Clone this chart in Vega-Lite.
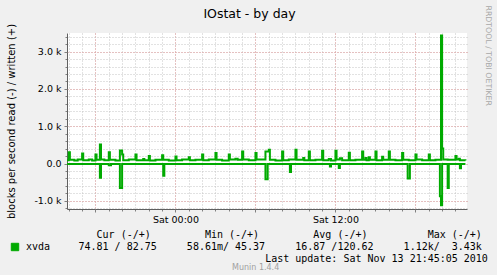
{
  "$schema": "https://vega.github.io/schema/vega-lite/v6.json",
  "width": 400,
  "height": 176,
  "autosize": "none",
  "padding": {"left": 67, "top": 33, "right": 30, "bottom": 66},
  "background": "#F0F0F0",
  "config": {"view": {"fill": "white", "stroke": null}, "font": "DejaVu Sans"},
  "datasets": {
    "w": [
      {"t": "2010-11-12T15:50:00Z", "v": 90}, {"t": "2010-11-12T16:00:00Z", "v": 300}, {"t": "2010-11-12T16:05:00Z", "v": 100},
      {"t": "2010-11-12T16:25:00Z", "v": 80}, {"t": "2010-11-12T16:40:00Z", "v": 110}, {"t": "2010-11-12T17:00:00Z", "v": 270},
      {"t": "2010-11-12T17:05:00Z", "v": 90}, {"t": "2010-11-12T17:30:00Z", "v": 110}, {"t": "2010-11-12T17:45:00Z", "v": 80},
      {"t": "2010-11-12T18:00:00Z", "v": 240}, {"t": "2010-11-12T18:05:00Z", "v": 100}, {"t": "2010-11-12T18:20:00Z", "v": 510},
      {"t": "2010-11-12T18:25:00Z", "v": 110}, {"t": "2010-11-12T18:40:00Z", "v": 90}, {"t": "2010-11-12T19:00:00Z", "v": 300},
      {"t": "2010-11-12T19:05:00Z", "v": 100}, {"t": "2010-11-12T19:30:00Z", "v": 80}, {"t": "2010-11-12T19:50:00Z", "v": 350},
      {"t": "2010-11-12T20:00:00Z", "v": 240}, {"t": "2010-11-12T20:05:00Z", "v": 90}, {"t": "2010-11-12T20:30:00Z", "v": 110},
      {"t": "2010-11-12T21:00:00Z", "v": 240}, {"t": "2010-11-12T21:05:00Z", "v": 90}, {"t": "2010-11-12T21:35:00Z", "v": 120},
      {"t": "2010-11-12T21:40:00Z", "v": 90}, {"t": "2010-11-12T22:00:00Z", "v": 200}, {"t": "2010-11-12T22:05:00Z", "v": 80},
      {"t": "2010-11-12T22:30:00Z", "v": 100}, {"t": "2010-11-12T23:00:00Z", "v": 220}, {"t": "2010-11-12T23:05:00Z", "v": 100},
      {"t": "2010-11-12T23:30:00Z", "v": 80}, {"t": "2010-11-13T00:00:00Z", "v": 190}, {"t": "2010-11-13T00:05:00Z", "v": 90},
      {"t": "2010-11-13T00:30:00Z", "v": 110}, {"t": "2010-11-13T01:00:00Z", "v": 170}, {"t": "2010-11-13T01:05:00Z", "v": 90},
      {"t": "2010-11-13T01:30:00Z", "v": 100}, {"t": "2010-11-13T02:00:00Z", "v": 240}, {"t": "2010-11-13T02:05:00Z", "v": 90},
      {"t": "2010-11-13T02:30:00Z", "v": 110}, {"t": "2010-11-13T03:00:00Z", "v": 280}, {"t": "2010-11-13T03:05:00Z", "v": 100},
      {"t": "2010-11-13T03:30:00Z", "v": 80}, {"t": "2010-11-13T04:00:00Z", "v": 240}, {"t": "2010-11-13T04:05:00Z", "v": 110},
      {"t": "2010-11-13T04:30:00Z", "v": 130}, {"t": "2010-11-13T04:40:00Z", "v": 100}, {"t": "2010-11-13T05:00:00Z", "v": 320},
      {"t": "2010-11-13T05:05:00Z", "v": 110}, {"t": "2010-11-13T05:30:00Z", "v": 90}, {"t": "2010-11-13T06:00:00Z", "v": 280},
      {"t": "2010-11-13T06:05:00Z", "v": 110}, {"t": "2010-11-13T06:45:00Z", "v": 320}, {"t": "2010-11-13T07:00:00Z", "v": 370},
      {"t": "2010-11-13T07:05:00Z", "v": 100}, {"t": "2010-11-13T07:30:00Z", "v": 80}, {"t": "2010-11-13T08:00:00Z", "v": 320},
      {"t": "2010-11-13T08:05:00Z", "v": 90}, {"t": "2010-11-13T08:30:00Z", "v": 110}, {"t": "2010-11-13T09:00:00Z", "v": 370},
      {"t": "2010-11-13T09:05:00Z", "v": 100}, {"t": "2010-11-13T09:35:00Z", "v": 150}, {"t": "2010-11-13T09:40:00Z", "v": 90},
      {"t": "2010-11-13T10:00:00Z", "v": 320}, {"t": "2010-11-13T10:05:00Z", "v": 90}, {"t": "2010-11-13T10:30:00Z", "v": 100},
      {"t": "2010-11-13T11:00:00Z", "v": 340}, {"t": "2010-11-13T11:05:00Z", "v": 90}, {"t": "2010-11-13T11:30:00Z", "v": 120},
      {"t": "2010-11-13T11:40:00Z", "v": 80}, {"t": "2010-11-13T12:00:00Z", "v": 340}, {"t": "2010-11-13T12:05:00Z", "v": 110},
      {"t": "2010-11-13T12:20:00Z", "v": 140}, {"t": "2010-11-13T12:30:00Z", "v": 90}, {"t": "2010-11-13T13:00:00Z", "v": 290},
      {"t": "2010-11-13T13:05:00Z", "v": 90}, {"t": "2010-11-13T13:30:00Z", "v": 100}, {"t": "2010-11-13T14:00:00Z", "v": 320},
      {"t": "2010-11-13T14:05:00Z", "v": 100}, {"t": "2010-11-13T14:15:00Z", "v": 150}, {"t": "2010-11-13T14:20:00Z", "v": 90},
      {"t": "2010-11-13T14:30:00Z", "v": 170}, {"t": "2010-11-13T14:35:00Z", "v": 100}, {"t": "2010-11-13T15:00:00Z", "v": 320},
      {"t": "2010-11-13T15:05:00Z", "v": 90}, {"t": "2010-11-13T15:30:00Z", "v": 180}, {"t": "2010-11-13T15:35:00Z", "v": 100},
      {"t": "2010-11-13T16:00:00Z", "v": 320}, {"t": "2010-11-13T16:05:00Z", "v": 100}, {"t": "2010-11-13T16:30:00Z", "v": 90},
      {"t": "2010-11-13T17:00:00Z", "v": 280}, {"t": "2010-11-13T17:05:00Z", "v": 100}, {"t": "2010-11-13T17:30:00Z", "v": 90},
      {"t": "2010-11-13T18:00:00Z", "v": 240}, {"t": "2010-11-13T18:05:00Z", "v": 110}, {"t": "2010-11-13T18:30:00Z", "v": 90},
      {"t": "2010-11-13T19:00:00Z", "v": 240}, {"t": "2010-11-13T19:05:00Z", "v": 90}, {"t": "2010-11-13T19:30:00Z", "v": 100},
      {"t": "2010-11-13T19:55:00Z", "v": 3430}, {"t": "2010-11-13T20:00:00Z", "v": 400}, {"t": "2010-11-13T20:05:00Z", "v": 110},
      {"t": "2010-11-13T20:25:00Z", "v": 100}, {"t": "2010-11-13T21:00:00Z", "v": 200}, {"t": "2010-11-13T21:05:00Z", "v": 110},
      {"t": "2010-11-13T21:15:00Z", "v": 130}, {"t": "2010-11-13T21:20:00Z", "v": 90}, {"t": "2010-11-13T21:45:00Z", "v": 83}
    ],
    "r": [
      {"t": "2010-11-12T15:50:00Z", "v": -15}, {"t": "2010-11-12T18:20:00Z", "v": -380}, {"t": "2010-11-12T18:25:00Z", "v": -15},
      {"t": "2010-11-12T19:00:00Z", "v": -50}, {"t": "2010-11-12T19:10:00Z", "v": -15}, {"t": "2010-11-12T19:50:00Z", "v": -660},
      {"t": "2010-11-12T20:00:00Z", "v": -15}, {"t": "2010-11-12T23:05:00Z", "v": -330}, {"t": "2010-11-12T23:10:00Z", "v": -15},
      {"t": "2010-11-13T06:45:00Z", "v": -420}, {"t": "2010-11-13T06:55:00Z", "v": -15}, {"t": "2010-11-13T08:35:00Z", "v": -230},
      {"t": "2010-11-13T08:40:00Z", "v": -15}, {"t": "2010-11-13T11:35:00Z", "v": -80}, {"t": "2010-11-13T11:40:00Z", "v": -15},
      {"t": "2010-11-13T12:15:00Z", "v": -120}, {"t": "2010-11-13T12:20:00Z", "v": -15}, {"t": "2010-11-13T17:25:00Z", "v": -400},
      {"t": "2010-11-13T17:35:00Z", "v": -15}, {"t": "2010-11-13T19:50:00Z", "v": -880}, {"t": "2010-11-13T19:55:00Z", "v": -1120},
      {"t": "2010-11-13T20:00:00Z", "v": -15}, {"t": "2010-11-13T20:25:00Z", "v": -660}, {"t": "2010-11-13T20:30:00Z", "v": -15},
      {"t": "2010-11-13T21:20:00Z", "v": -130}, {"t": "2010-11-13T21:25:00Z", "v": -15}, {"t": "2010-11-13T21:45:00Z", "v": -15}
    ]
  },
  "layer": [
    {
      "data": {"name": "w"},
      "mark": {"type": "line", "interpolate": "step-after", "strokeWidth": 2, "clip": true},
      "encoding": {
        "x": {
          "field": "t", "type": "temporal",
          "scale": {"type": "utc", "domain": [1289577120000, 1289685120000]},
          "axis": {"orient": "bottom",
            "values": [1289577600000, 1289581200000, 1289584800000, 1289588400000, 1289592000000, 1289595600000, 1289599200000, 1289602800000, 1289606400000, 1289610000000, 1289613600000, 1289617200000, 1289620800000, 1289624400000, 1289628000000, 1289631600000, 1289635200000, 1289638800000, 1289642400000, 1289646000000, 1289649600000, 1289653200000, 1289656800000, 1289660400000, 1289664000000, 1289667600000, 1289671200000, 1289674800000, 1289678400000, 1289682000000],
            "grid": true, "gridColor": "#C4C4C4", "gridDash": [1, 2], "gridWidth": 1, "labels": false,
            "ticks": true, "tickSize": 2, "tickColor": "#808080", "domain": true, "domainColor": "#606060",
            "domainWidth": 1, "title": null}
        },
        "y": {
          "field": "v", "type": "quantitative",
          "scale": {"domain": [-1220, 3500], "nice": false, "zero": false},
          "axis": {"orient": "left", "values": [-1200, -1000, -800, -600, -400, -200, 0, 200, 400, 600, 800, 1000, 1200, 1400, 1600, 1800, 2000, 2200, 2400, 2600, 2800, 3000, 3200, 3400],
            "grid": true, "gridColor": "#C4C4C4", "gridDash": [1, 2], "gridWidth": 1, "labels": false,
            "ticks": true, "tickSize": 2, "tickColor": "#808080", "domain": true, "domainColor": "#606060",
            "title": "blocks per second read (-) / written (+)", "titleFont": "DejaVu Sans", "titleFontSize": 10,
            "titleFontWeight": "normal", "titleColor": "black", "titleX": -56, "titleY": 88, "titleAngle": 270,
            "titleAlign": "center", "titleBaseline": "middle"}
        },
        "color": {
          "datum": "xvda", "scale": {"range": ["#00AA00"]},
          "legend": {"orient": "none", "legendX": -57, "legendY": 209, "title": null, "padding": 0,
            "symbolType": "square", "symbolSize": 55, "symbolFillColor": "#00AA00", "symbolStrokeColor": "black",
            "symbolStrokeWidth": 1, "labelFont": "DejaVu Sans Mono", "labelFontSize": 10,
            "labelColor": "black", "labelOffset": 6}
        }
      }
    },
    {
      "data": {"name": "r"},
      "mark": {"type": "line", "interpolate": "step-after", "strokeWidth": 2, "clip": true},
      "encoding": {
        "x": {
          "field": "t", "type": "temporal",
          "axis": {"orient": "bottom", "values": [1289584800000, 1289606400000, 1289628000000, 1289649600000, 1289671200000],
            "grid": true, "gridColor": "#E8A0A0", "gridDash": [1, 2], "gridWidth": 1,
            "labelExpr": "utchours(datum.value) % 12 == 0 ? utcFormat(datum.value, '%a %H:%M') : ''",
            "labelFont": "DejaVu Sans", "labelFontSize": 9.5, "labelColor": "black", "labelFlush": false,
            "labelOverlap": false, "labelPadding": 2, "labelBaseline": "top",
            "ticks": true, "tickSize": 3, "tickColor": "#808080", "domain": false,
            "title": [
              "\u200b\u00a0\u00a0\u00a0Cur\u00a0(-/+)\u00a0\u00a0\u00a0\u00a0\u00a0\u00a0\u00a0\u00a0\u00a0Min\u00a0(-/+)\u00a0\u00a0\u00a0\u00a0\u00a0\u00a0\u00a0\u00a0\u00a0Avg\u00a0(-/+)\u00a0\u00a0\u00a0\u00a0\u00a0\u00a0\u00a0\u00a0\u00a0\u00a0Max\u00a0(-/+)",
              "74.81\u00a0/\u00a082.75\u00a0\u00a0\u00a0\u00a0\u00a058.61m/\u00a045.37\u00a0\u00a0\u00a0\u00a0\u00a016.87\u00a0/120.62\u00a0\u00a0\u00a0\u00a0\u00a01.12k/\u00a0\u00a03.43k",
              "\u200b\u00a0\u00a0\u00a0\u00a0\u00a0\u00a0\u00a0\u00a0\u00a0\u00a0\u00a0\u00a0\u00a0\u00a0\u00a0\u00a0\u00a0\u00a0\u00a0\u00a0\u00a0\u00a0\u00a0\u00a0\u00a0\u00a0\u00a0\u00a0\u00a0\u00a0\u00a0Last\u00a0update:\u00a0Sat\u00a0Nov\u00a013\u00a021:45:05\u00a02010"
            ],
            "titleFont": "DejaVu Sans Mono", "titleFontSize": 10, "titleFontWeight": "normal", "titleColor": "black",
            "titleX": 11, "titleY": 20.5, "titleAlign": "left", "titleBaseline": "top", "titleLineHeight": 12.2}
        },
        "y": {
          "field": "v", "type": "quantitative",
          "axis": {"orient": "left", "values": [-1000, 0, 1000, 2000, 3000], "grid": true,
            "gridColor": "#E8A0A0", "gridDash": [1, 2], "gridWidth": 1,
            "labelExpr": "datum.value == 0 ? '0.0' : (datum.value < 0 ? '-' : '') + format(abs(datum.value) / 1000, '.1f') + ' k'",
            "labelFont": "DejaVu Sans", "labelFontSize": 9.5, "labelColor": "black", "labelPadding": 3,
            "ticks": true, "tickSize": 3, "tickColor": "#808080", "domain": false, "title": null}
        },
        "color": {"datum": "xvda"}
      }
    },
    {
      "mark": {"type": "rule", "color": "black", "strokeWidth": 1.3, "yOffset": -0.8},
      "encoding": {"y": {"datum": 0, "type": "quantitative", "axis": null}}
    },
    {
      "mark": {"type": "rule", "color": "#E00000", "strokeWidth": 1.5, "yOffset": 0.7},
      "encoding": {
        "y": {"datum": 0, "type": "quantitative",
          "axis": {"orient": "right", "labels": false, "ticks": false, "domain": false, "grid": false,
            "title": "RRDTOOL / TOBI OETIKER", "titleFont": "DejaVu Sans", "titleFontSize": 7.8,
            "titleFontWeight": "normal", "titleColor": "#A8A8A8", "titleAngle": 90, "titleX": 20.5,
            "titleY": -28, "titleAlign": "left", "titleBaseline": "middle"}},
        "strokeDash": {"datum": "Munin 1.4.4", "scale": {"range": [[1, 0]]},
          "legend": {"orient": "none", "legendX": 157, "legendY": 231, "title": null, "padding": 0,
            "symbolSize": 1, "symbolStrokeWidth": 0, "symbolOpacity": 0, "labelOffset": 0,
            "labelFont": "DejaVu Sans", "labelFontSize": 8, "labelColor": "#A0A0A0"}}
      }
    },
    {
      "mark": {"type": "point", "shape": "triangle-up", "filled": true, "color": "#8B1A1A", "opacity": 1, "size": 30, "yOffset": -4},
      "encoding": {
        "x": {"datum": 1289577120000, "type": "temporal",
          "axis": {"orient": "top", "labels": false, "ticks": false, "domain": false, "grid": false,
            "title": "IOstat - by day", "titleFont": "DejaVu Sans", "titleFontSize": 12.5, "titleFontWeight": "normal",
            "titleColor": "black", "titleX": 182, "titleY": -19.5, "titleAlign": "center", "titleBaseline": "middle"}},
        "y": {"datum": 3500, "type": "quantitative", "axis": null}
      }
    },
    {
      "mark": {"type": "point", "shape": "triangle-right", "filled": true, "color": "#8B1A1A", "opacity": 1, "size": 30, "xOffset": 3.5},
      "encoding": {
        "x": {"datum": 1289685120000, "type": "temporal", "axis": null},
        "y": {"datum": -1220, "type": "quantitative", "axis": null}
      }
    }
  ],
  "resolve": {"axis": {"x": "independent", "y": "independent"}}
}
